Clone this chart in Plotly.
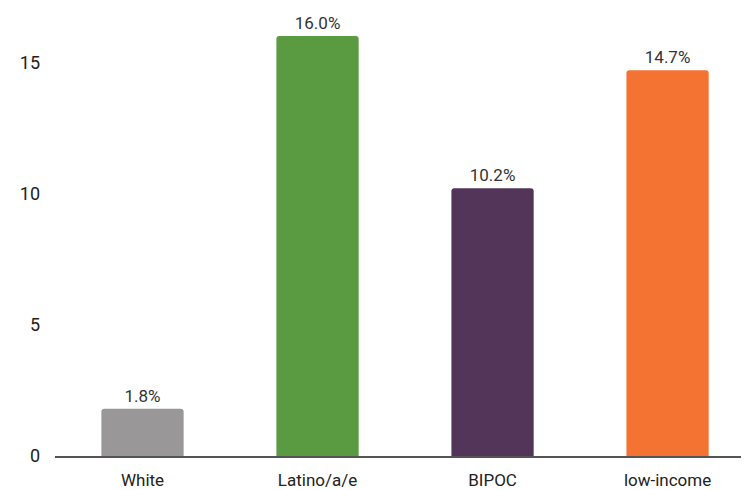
import plotly.graph_objects as go

categories = ["White", "Latino/a/e", "BIPOC", "low-income"]
values = [1.8, 16.0, 10.2, 14.7]
colors = ["#999797", "#5a9a41", "#523558", "#f47232"]
y_ticks = [0, 5, 10, 15]

fig = go.Figure(go.Bar(
    x=categories,
    y=values,
    marker=dict(color=colors, line=dict(width=0)),
    width=0.47,
    text=[f"{v:.1f}%" for v in values],
    textposition="outside",
    textfont=dict(family="Roboto, sans-serif", size=17, color="#333333"),
    cliponaxis=False,
))

fig.update_layout(
    width=749, height=490,
    margin=dict(l=47, r=0, t=10, b=42),
    paper_bgcolor="white", plot_bgcolor="white",
    showlegend=False,
    barcornerradius=3,
    font=dict(family="Roboto, sans-serif", size=17, color="#333333"),
)
fig.update_xaxes(
    range=[-0.5, 3.511],
    showgrid=False,
    showline=True, linecolor="#555555", linewidth=1.5,
    ticks="", ticklabelstandoff=8,
    tickfont=dict(size=17, color="#222222"),
)
fig.update_yaxes(
    range=[0, 16.69],
    tickvals=y_ticks,
    showgrid=False, zeroline=False, showline=False,
    ticks="", ticklabelstandoff=14,
    tickfont=dict(size=18, color="#222222"),
)

fig.write_html("out.html")
